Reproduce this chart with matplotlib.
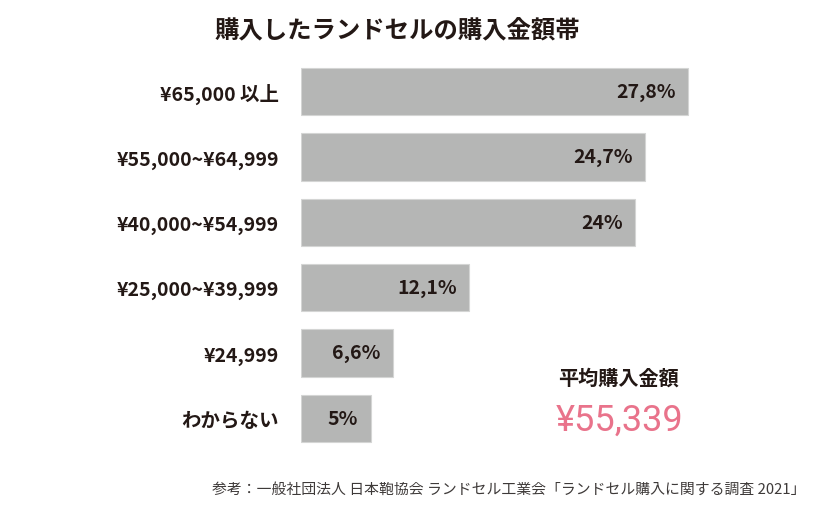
import matplotlib
matplotlib.use("Agg")
import matplotlib.pyplot as plt

plt.rcParams['font.family'] = ['Noto Sans CJK JP', 'DejaVu Sans']

categories = ["¥65,000 以上", "¥55,000~¥64,999", "¥40,000~¥54,999",
              "¥25,000~¥39,999", "¥24,999", "わからない"]
shares = [27.8, 24.7, 24.0, 12.1, 6.6, 5.0]
share_labels = ["27,8%", "24,7%", "24%", "12,1%", "6,6%", "5%"]

title = "購入したランドセルの購入金額帯"
avg_title = "平均購入金額"
avg_value = "¥55,339"
source = "参考：一般社団法人 日本鞄協会 ランドセル工業会「ランドセル購入に関する調査 2021」"

W, H = 817, 510
fig = plt.figure(figsize=(W / 100, H / 100), dpi=100)
fig.patch.set_facecolor("white")

# axes placed in pixel terms: left 301px, 1% = ~13.92px
left, right, top, bottom = 301, 801, 60, 452
ax = fig.add_axes([left / W, 1 - bottom / H, (right - left) / W, (bottom - top) / H])
ax.set_xlim(0, (right - left) / 13.92)
ax.set_ylim(len(categories) - 0.5, -0.5)

y = range(len(categories))
ax.barh(y, shares, height=0.72, color="#b5b6b5", edgecolor="#d4d5d4", linewidth=0.8)

for i, (v, lab) in enumerate(zip(shares, share_labels)):
    ax.annotate(lab, (v, i), xytext=(-9, 0), textcoords="offset points",
                ha="right", va="center", fontsize=14, fontweight="bold", color="#231815")

ax.set_yticks(list(y))
ax.set_yticklabels(categories, fontsize=14, fontweight="bold", color="#231815")
ax.tick_params(axis="y", length=0, pad=16)
ax.set_xticks([])
for s in ax.spines.values():
    s.set_visible(False)

fig.text(397 / W, 1 - 31 / H, title, ha="center", va="center",
         fontsize=17.6, fontweight="bold", color="#231815")
fig.text(618 / W, 1 - 378 / H, avg_title, ha="center", va="center",
         fontsize=14.5, fontweight="bold", color="#231815")
fig.text(620 / W, 1 - 421 / H, avg_value, ha="center", va="center",
         fontsize=26, fontweight="normal", color="#e9738b", family=["Roboto", "DejaVu Sans"])
fig.text(806 / W, 1 - 490 / H, source, ha="right", va="center",
         fontsize=10.7, color="#3e3a39")

fig.savefig("out.png", dpi=100, facecolor="white")
